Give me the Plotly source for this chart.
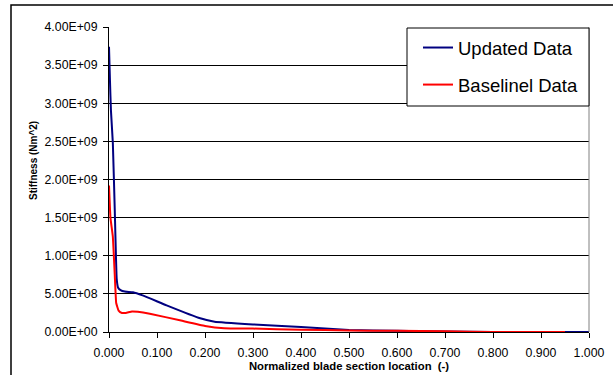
import plotly.graph_objects as go

# Updated data (blue)
upd_x = [0.000, 0.002, 0.004, 0.008, 0.012, 0.016, 0.019, 0.024, 0.033, 0.050, 0.070,
         0.120, 0.190, 0.220, 0.300, 0.400, 0.500, 0.600, 0.700, 0.800, 0.950, 1.000]
upd_y = [3.74e9, 3.30e9, 2.91e9, 2.48e9, 1.60e9, 0.70e9, 0.58e9, 0.55e9, 0.53e9, 0.52e9, 0.48e9,
         0.35e9, 0.18e9, 0.135e9, 0.10e9, 0.065e9, 0.025e9, 0.015e9, 0.005e9, 0.0, 0.0, 0.0]

# Baseline data (red)
base_x = [0.000, 0.003, 0.008, 0.012, 0.015, 0.020, 0.027, 0.035, 0.048, 0.060, 0.085,
          0.150, 0.200, 0.240, 0.300, 0.400, 0.500, 0.600, 0.700, 0.800, 0.950]
base_y = [1.92e9, 1.50e9, 1.25e9, 0.75e9, 0.38e9, 0.28e9, 0.25e9, 0.25e9, 0.27e9, 0.265e9, 0.24e9,
          0.15e9, 0.08e9, 0.05e9, 0.045e9, 0.03e9, 0.02e9, 0.015e9, 0.01e9, 0.0, 0.0]

y_ticks = [0, 0.5e9, 1.0e9, 1.5e9, 2.0e9, 2.5e9, 3.0e9, 3.5e9, 4.0e9]
y_tick_labels = ["0.00E+00", "5.00E+08", "1.00E+09", "1.50E+09", "2.00E+09",
                 "2.50E+09", "3.00E+09", "3.50E+09", "4.00E+09"]
x_ticks = [0.0, 0.1, 0.2, 0.3, 0.4, 0.5, 0.6, 0.7, 0.8, 0.9, 1.0]

FONT = "Liberation Sans, Arial, sans-serif"

# plot area in pixels
L, R, T, B = 109, 589, 27, 332
PW, PH = R - L, B - T


def px_x(p):
    return (p - L) / PW


def px_y(p):
    return (B - p) / PH


fig = go.Figure()
fig.add_trace(go.Scatter(x=upd_x, y=upd_y, mode="lines", name="Updated Data", legendgroup="a",
                         line=dict(color="#000080", width=2, shape="spline", smoothing=0.3)))
fig.add_trace(go.Scatter(x=base_x, y=base_y, mode="lines", name="Baselinel Data", legendgroup="b",
                         line=dict(color="#ff0000", width=2, shape="spline", smoothing=0.3)))

fig.update_layout(
    width=613, height=375,
    margin=dict(l=L, r=613 - R, t=T, b=375 - B, autoexpand=False),
    paper_bgcolor="white", plot_bgcolor="white",
    font=dict(family=FONT, color="black", size=12),
    showlegend=True,
    legend=dict(x=px_x(418), y=px_y(29), xanchor="left", yanchor="top",
                borderwidth=0, bgcolor="rgba(0,0,0,0)",
                font=dict(size=18.5, family=FONT),
                tracegroupgap=10, itemwidth=30),
    xaxis=dict(range=[0, 1], tickvals=x_ticks, tickformat=".3f", automargin=False,
               showgrid=False, zeroline=False, showline=True, linecolor="black", linewidth=1,
               ticks="outside", ticklen=5, tickcolor="black", ticklabelstandoff=4,
               tickfont=dict(size=12.3),
               title=dict(text="<b>Normalized blade section location  (-)</b>",
                          font=dict(size=11.3), standoff=3)),
    yaxis=dict(range=[0, 4e9], tickvals=y_ticks, ticktext=y_tick_labels, automargin=False,
               showgrid=True, gridcolor="black", gridwidth=1, zeroline=False,
               showline=True, linecolor="black", linewidth=1,
               ticks="outside", ticklen=5, tickcolor="black", ticklabelstandoff=3,
               tickfont=dict(size=12.3)),
    annotations=[dict(text="<b>Stiffness (Nm^2)</b>", textangle=-90,
                      xref="paper", yref="paper", x=px_x(33), y=px_y(161),
                      xanchor="center", yanchor="middle", showarrow=False,
                      font=dict(size=10, family=FONT, color="black"))],
)

# plot-area right border (gray)
fig.add_shape(type="line", xref="paper", yref="paper", x0=1, x1=1, y0=0, y1=1,
              line=dict(color="#808080", width=1))
# legend box
fig.add_shape(type="rect", xref="paper", yref="paper",
              x0=px_x(407), x1=px_x(589), y0=px_y(106), y1=px_y(28),
              line=dict(color="black", width=1), fillcolor="white", layer="above")
# outer chart border
fig.add_shape(type="rect", xref="paper", yref="paper",
              x0=px_x(11), x1=px_x(640), y0=px_y(400), y1=px_y(5),
              line=dict(color="black", width=1.5), layer="below")

fig.write_html("out.html")
